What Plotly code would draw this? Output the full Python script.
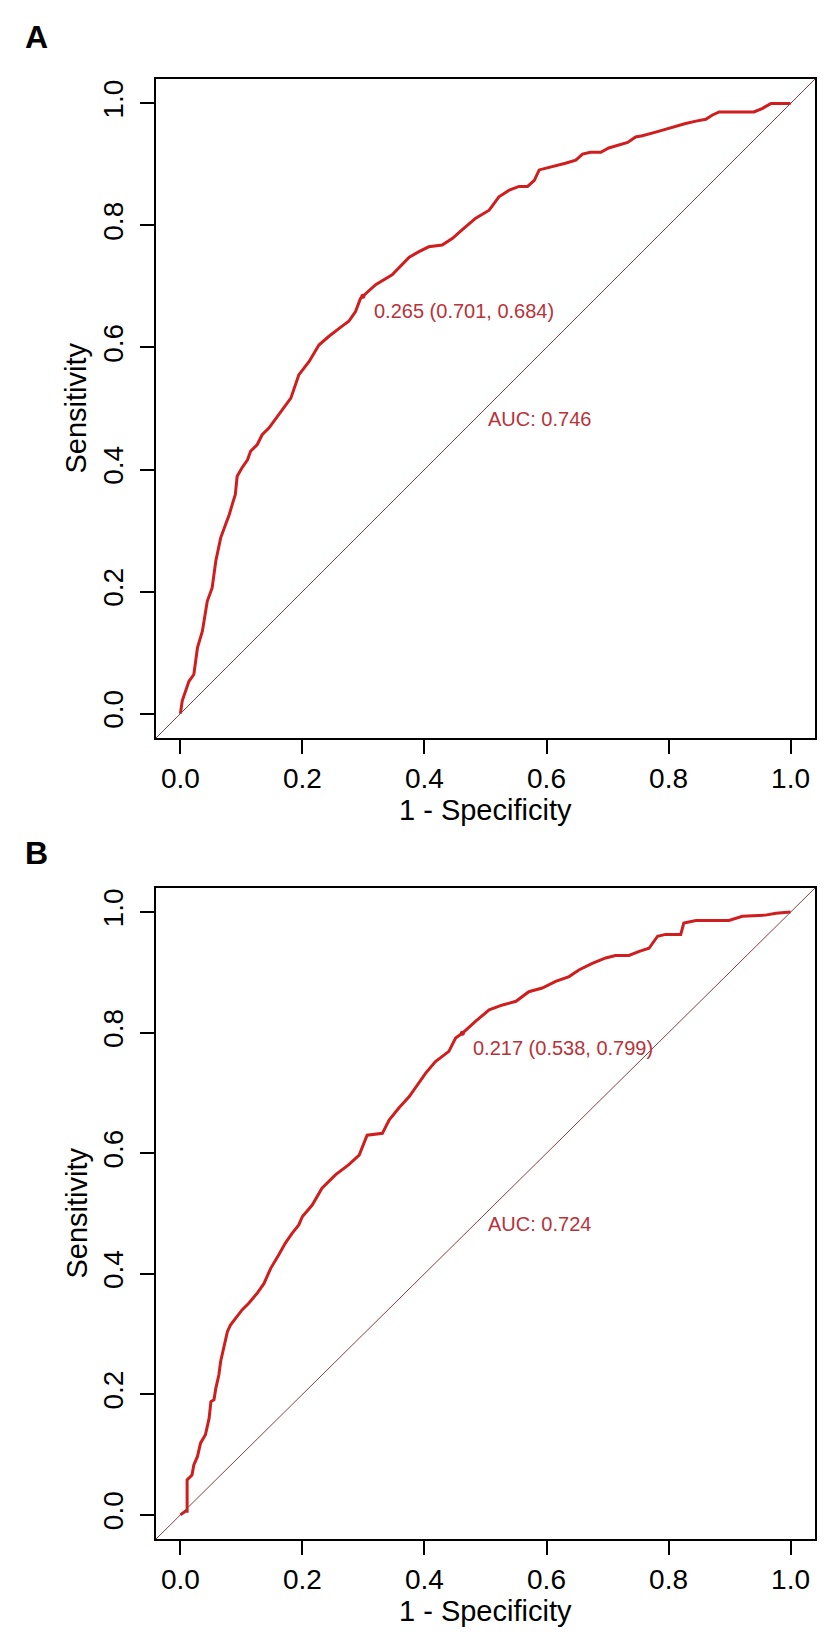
import plotly.graph_objects as go

# ROC curve A (1 - specificity, sensitivity)
fpr_a = [0.0, 0.003, 0.014, 0.022, 0.028, 0.036, 0.044, 0.052, 0.058, 0.066, 0.074, 0.080,
         0.085, 0.090, 0.093, 0.101, 0.110, 0.115, 0.126, 0.134, 0.145, 0.160, 0.172, 0.181,
         0.194, 0.211, 0.227, 0.243, 0.265, 0.276, 0.287, 0.295, 0.299, 0.320, 0.347, 0.375,
         0.391, 0.407, 0.429, 0.446, 0.462, 0.484, 0.506, 0.522, 0.539, 0.555, 0.569, 0.580,
         0.588, 0.610, 0.631, 0.648, 0.659, 0.672, 0.689, 0.702, 0.719, 0.733, 0.746, 0.757,
         0.779, 0.806, 0.828, 0.845, 0.861, 0.872, 0.883, 0.921, 0.940, 0.954, 0.968, 1.0]
tpr_a = [0.0, 0.021, 0.053, 0.064, 0.108, 0.135, 0.184, 0.206, 0.250, 0.288, 0.310, 0.326,
         0.343, 0.359, 0.389, 0.403, 0.416, 0.430, 0.441, 0.457, 0.468, 0.488, 0.503, 0.517,
         0.555, 0.577, 0.604, 0.618, 0.635, 0.643, 0.659, 0.680, 0.684, 0.703, 0.719, 0.748,
         0.757, 0.765, 0.768, 0.779, 0.793, 0.812, 0.825, 0.847, 0.858, 0.864, 0.864, 0.874,
         0.891, 0.896, 0.902, 0.907, 0.917, 0.920, 0.920, 0.927, 0.932, 0.936, 0.945, 0.947,
         0.953, 0.961, 0.967, 0.971, 0.974, 0.981, 0.986, 0.986, 0.986, 0.992, 1.0, 1.0]

# ROC curve B
fpr_b = [0.0, 0.008, 0.011, 0.011, 0.019, 0.022, 0.028, 0.033, 0.041, 0.047, 0.050, 0.055,
         0.058, 0.063, 0.066, 0.071, 0.077, 0.082, 0.090, 0.101, 0.112, 0.126, 0.137, 0.148,
         0.161, 0.172, 0.183, 0.194, 0.2, 0.216, 0.232, 0.254, 0.276, 0.293, 0.306, 0.331,
         0.342, 0.358, 0.375, 0.386, 0.402, 0.418, 0.440, 0.451, 0.462, 0.484, 0.506, 0.528,
         0.550, 0.571, 0.593, 0.615, 0.637, 0.653, 0.675, 0.697, 0.713, 0.735, 0.752, 0.768,
         0.782, 0.795, 0.820, 0.825, 0.845, 0.899, 0.921, 0.959, 0.976, 1.0]
tpr_b = [0.0, 0.006, 0.006, 0.058, 0.066, 0.083, 0.097, 0.119, 0.133, 0.160, 0.188, 0.191,
         0.210, 0.232, 0.255, 0.277, 0.304, 0.315, 0.326, 0.340, 0.351, 0.368, 0.384, 0.409,
         0.431, 0.451, 0.467, 0.481, 0.495, 0.514, 0.542, 0.564, 0.581, 0.597, 0.630, 0.633,
         0.655, 0.675, 0.694, 0.710, 0.733, 0.752, 0.769, 0.791, 0.799, 0.819, 0.838, 0.846,
         0.852, 0.868, 0.874, 0.885, 0.893, 0.904, 0.915, 0.924, 0.928, 0.928, 0.935, 0.940,
         0.960, 0.963, 0.963, 0.982, 0.986, 0.986, 0.993, 0.995, 0.998, 1.0]

# best thresholds: (threshold, specificity, sensitivity) and AUCs
thres_a = (0.265, 0.701, 0.684)
thres_b = (0.217, 0.538, 0.799)
auc_a = 0.746
auc_b = 0.724

tick_vals = [0.0, 0.2, 0.4, 0.6, 0.8, 1.0]
axis_range = [-0.04, 1.04]

curve_col = "#d01d1d"
text_col = "#b8323a"
diag_col = "#8b3f3f"
font = "Liberation Sans, Arial, sans-serif"

W, H = 839, 1640
x_dom = [148 / W, 807 / W]
ya_dom = [1 - 730 / H, 1 - 71 / H]
yb_dom = [1 - 1531 / H, 1 - 880 / H]

fig = go.Figure()

panels = [("x", "y", fpr_a, tpr_a, thres_a, auc_a, ya_dom),
          ("x2", "y2", fpr_b, tpr_b, thres_b, auc_b, yb_dom)]

for xa, ya, fpr, tpr, thr, auc, ydom in panels:
    fig.add_trace(go.Scatter(x=fpr, y=tpr, xaxis=xa, yaxis=ya, mode="lines",
                             line=dict(color=curve_col, width=3), showlegend=False))
    fig.add_trace(go.Scatter(x=[1 - thr[1]], y=[thr[2]], xaxis=xa, yaxis=ya, mode="markers",
                             marker=dict(color=curve_col, size=5), showlegend=False))
    # identity line across the whole plot region
    fig.add_shape(type="line", xref=xa + " domain", yref=ya + " domain",
                  x0=0, y0=0, x1=1, y1=1, line=dict(color=diag_col, width=1))
    fig.add_annotation(x=1 - thr[1] + 0.015, y=thr[2] - 0.024, xref=xa, yref=ya,
                       text="%.3f (%.3f, %.3f)" % thr, showarrow=False,
                       xanchor="left", yanchor="middle",
                       font=dict(size=20, color=text_col, family=font))
    fig.add_annotation(x=0.5, y=0.483, xref=xa, yref=ya,
                       text="AUC: %.3f" % auc, showarrow=False,
                       xanchor="left", yanchor="middle",
                       font=dict(size=20, color=text_col, family=font))
    # axis titles
    fig.add_annotation(x=sum(x_dom) / 2, y=ydom[0] - 72 / H, xref="paper", yref="paper",
                       text="1 - Specificity", showarrow=False,
                       xanchor="center", yanchor="middle",
                       font=dict(size=29, color="black", family=font))
    fig.add_annotation(x=68 / W, y=sum(ydom) / 2, xref="paper", yref="paper",
                       text="Sensitivity", showarrow=False, textangle=-90,
                       xanchor="center", yanchor="middle",
                       font=dict(size=29, color="black", family=font))

axis_style = dict(range=axis_range, tickvals=tick_vals, tickformat=".1f",
                  showline=True, mirror=True, linecolor="black", linewidth=2,
                  ticks="outside", ticklen=14, tickwidth=2, tickcolor="black",
                  showgrid=False, zeroline=False, automargin=False,
                  tickfont=dict(size=28, color="black", family=font))

fig.update_layout(
    width=W, height=H,
    margin=dict(l=0, r=0, t=0, b=0),
    paper_bgcolor="white", plot_bgcolor="white",
    xaxis=dict(axis_style, domain=x_dom, anchor="y"),
    yaxis=dict(axis_style, domain=ya_dom, anchor="x", tickangle=-90, ticklabelstandoff=6),
    xaxis2=dict(axis_style, domain=x_dom, anchor="y2"),
    yaxis2=dict(axis_style, domain=yb_dom, anchor="x2", tickangle=-90, ticklabelstandoff=6),
)

for letter, ypos in [("A", 1 - 29.5 / H), ("B", 1 - 845.5 / H)]:
    fig.add_annotation(x=28 / W, y=ypos, xref="paper", yref="paper", text="<b>%s</b>" % letter,
                       showarrow=False, xanchor="center", yanchor="middle",
                       font=dict(size=32, color="black", family=font))

fig.write_html("out.html")
